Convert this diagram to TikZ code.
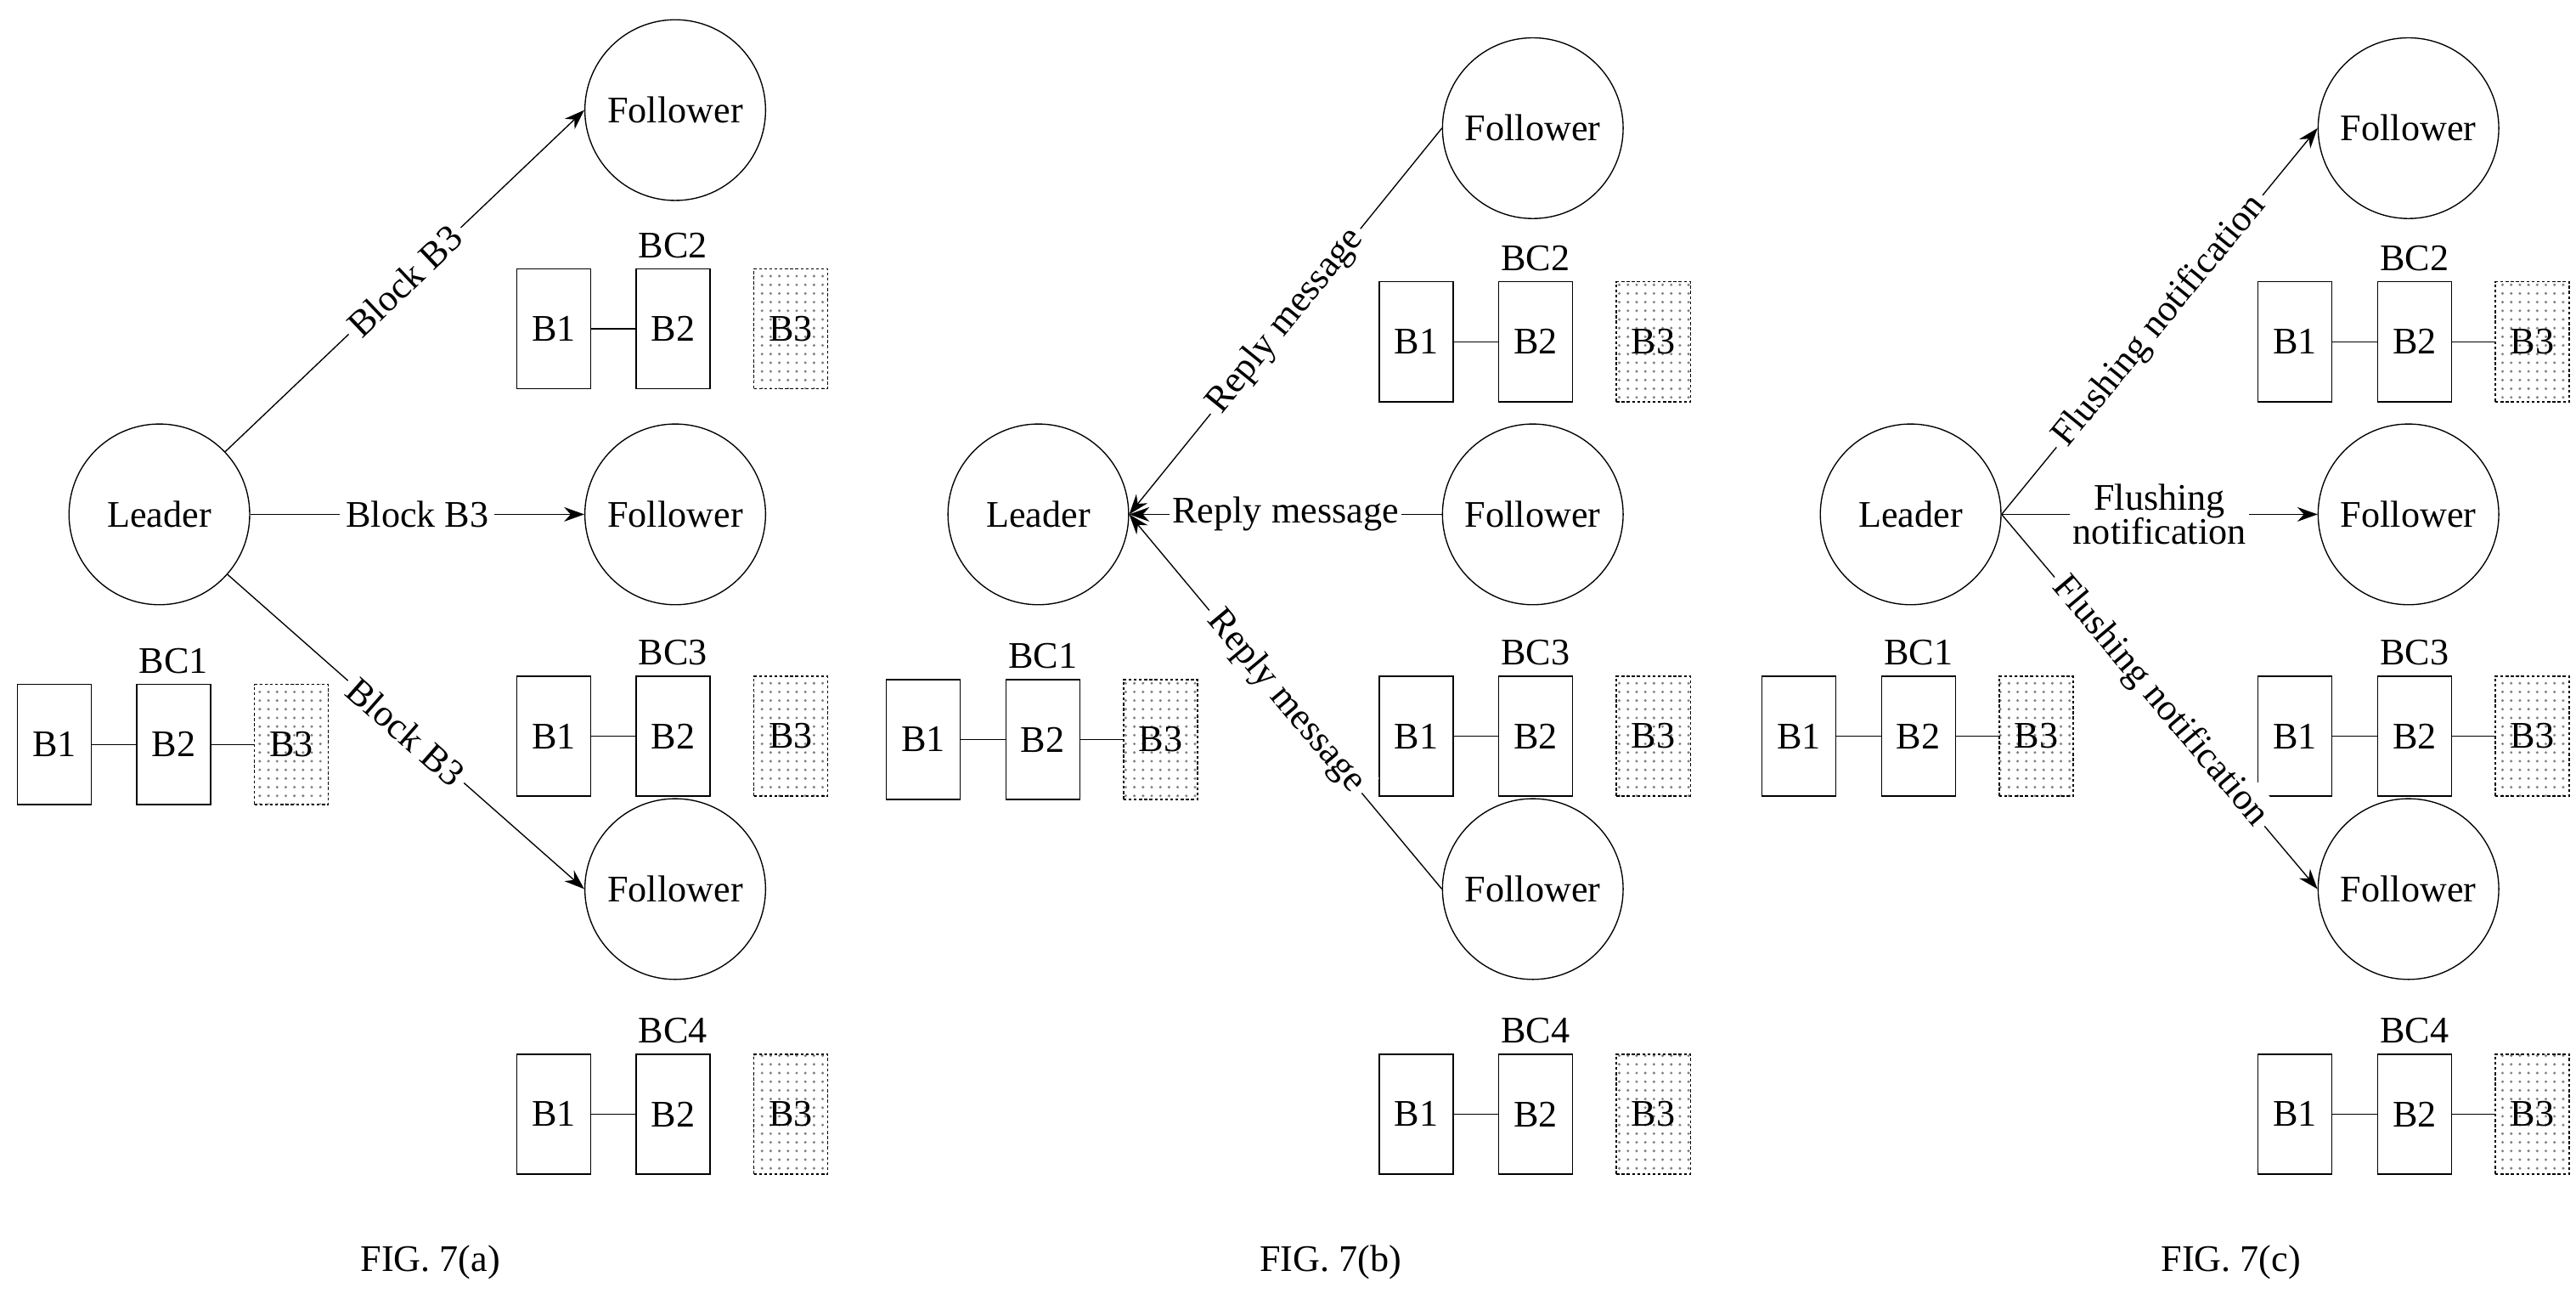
\documentclass[tikz,border=0pt]{standalone}
\usepackage{fontspec}
\setmainfont{Liberation Serif}
\usetikzlibrary{arrows.meta,positioning,patterns}

\tikzset{
    peer/.style={circle, draw, minimum size=2.2cm, inner sep=0pt},
    blk/.style={rectangle, draw, minimum width=0.9cm, minimum height=1.46cm, inner sep=0pt},
    newblk/.style={blk, dash pattern=on 1pt off 0.8pt, pattern=dots, pattern color=gray},
    msg/.style={-{Stealth[length=7pt,width=5pt]}},
    lbl/.style={fill=white, inner sep=2pt}
}

% one blockchain: prefix, B1 centre, label
\newcommand{\blockchain}[3]{%
    \node[blk] (#1b1) at #2 {B1};
    \node[blk, right=0.54cm of #1b1] (#1b2) {B2};
    \node[newblk, right=0.52cm of #1b2] (#1b3) {B3};
    \node[above=0pt of #1b2] (#1lab) {#3};
    \draw (#1b1) -- (#1b2);
}

\begin{document}
\begin{tikzpicture}[x=0.02cm, y=-0.02cm, font=\fontsize{13}{14}\selectfont]
\useasboundingbox (0,0) rectangle (1568,790);

% ---------- FIG. 7(a)
\node[peer] (la) at (97,313) {Leader};
\node[peer] (fa1) at (411,67) {Follower};
\node[peer] (fa2) at (411,313) {Follower};
\node[peer] (fa3) at (411,541) {Follower};
\blockchain{a1}{(33,453)}{BC1}
\blockchain{a2}{(337,200)}{BC2}
\blockchain{a3}{(337,448)}{BC3}
\blockchain{a4}{(337,678)}{BC4}
\draw (a1b2) -- (a1b3);
\draw[msg] (la) -- node[lbl, sloped] {Block B3} (fa1.west);
\draw[msg] (la) -- node[lbl] {Block B3} (fa2);
\draw[msg] (la) -- node[lbl, sloped] {Block B3} (fa3.west);
\node (figa) at (262,768) {FIG. 7(a)};

% ---------- FIG. 7(b)
\node[peer] (lb) at (632,313) {Leader};
\node[peer] (fb1) at (933,78) {Follower};
\node[peer] (fb2) at (933,313) {Follower};
\node[peer] (fb3) at (933,541) {Follower};
\blockchain{b1}{(562,450)}{BC1}
\blockchain{b2}{(862,208)}{BC2}
\blockchain{b3}{(862,448)}{BC3}
\blockchain{b4}{(862,678)}{BC4}
\draw (b1b2) -- (b1b3);
\draw[msg] (fb1.west) -- node[lbl, sloped] {Reply message} (lb.east);
\draw[msg] (fb2) -- node[lbl, inner sep=1pt] {Reply message} (lb.east);
\draw[msg] (fb3.west) -- node[lbl, sloped] {Reply message} (lb.east);
\node (figb) at (810,768) {FIG. 7(b)};

% ---------- FIG. 7(c)
\node[peer] (lc) at (1163,313) {Leader};
\node[peer] (fc1) at (1466,78) {Follower};
\node[peer] (fc2) at (1466,313) {Follower};
\node[peer] (fc3) at (1466,541) {Follower};
\blockchain{c1}{(1095,448)}{BC1}
\blockchain{c2}{(1397,208)}{BC2}
\blockchain{c3}{(1397,448)}{BC3}
\blockchain{c4}{(1397,678)}{BC4}
\foreach \c in {c1,c2,c3,c4}
    \draw (\c b2) -- (\c b3);
\draw[msg] (lc.east) -- node[lbl, sloped] {Flushing notification} (fc1.west);
\draw[msg] (lc.east) -- node[lbl, align=center, inner sep=1pt, font=\fontsize{13}{12}\selectfont] {Flushing\\notification} (fc2);
\draw[msg] (lc.east) -- node[lbl, sloped] {Flushing notification} (fc3.west);
\node (figc) at (1358,768) {FIG. 7(c)};
\end{tikzpicture}
\end{document}
